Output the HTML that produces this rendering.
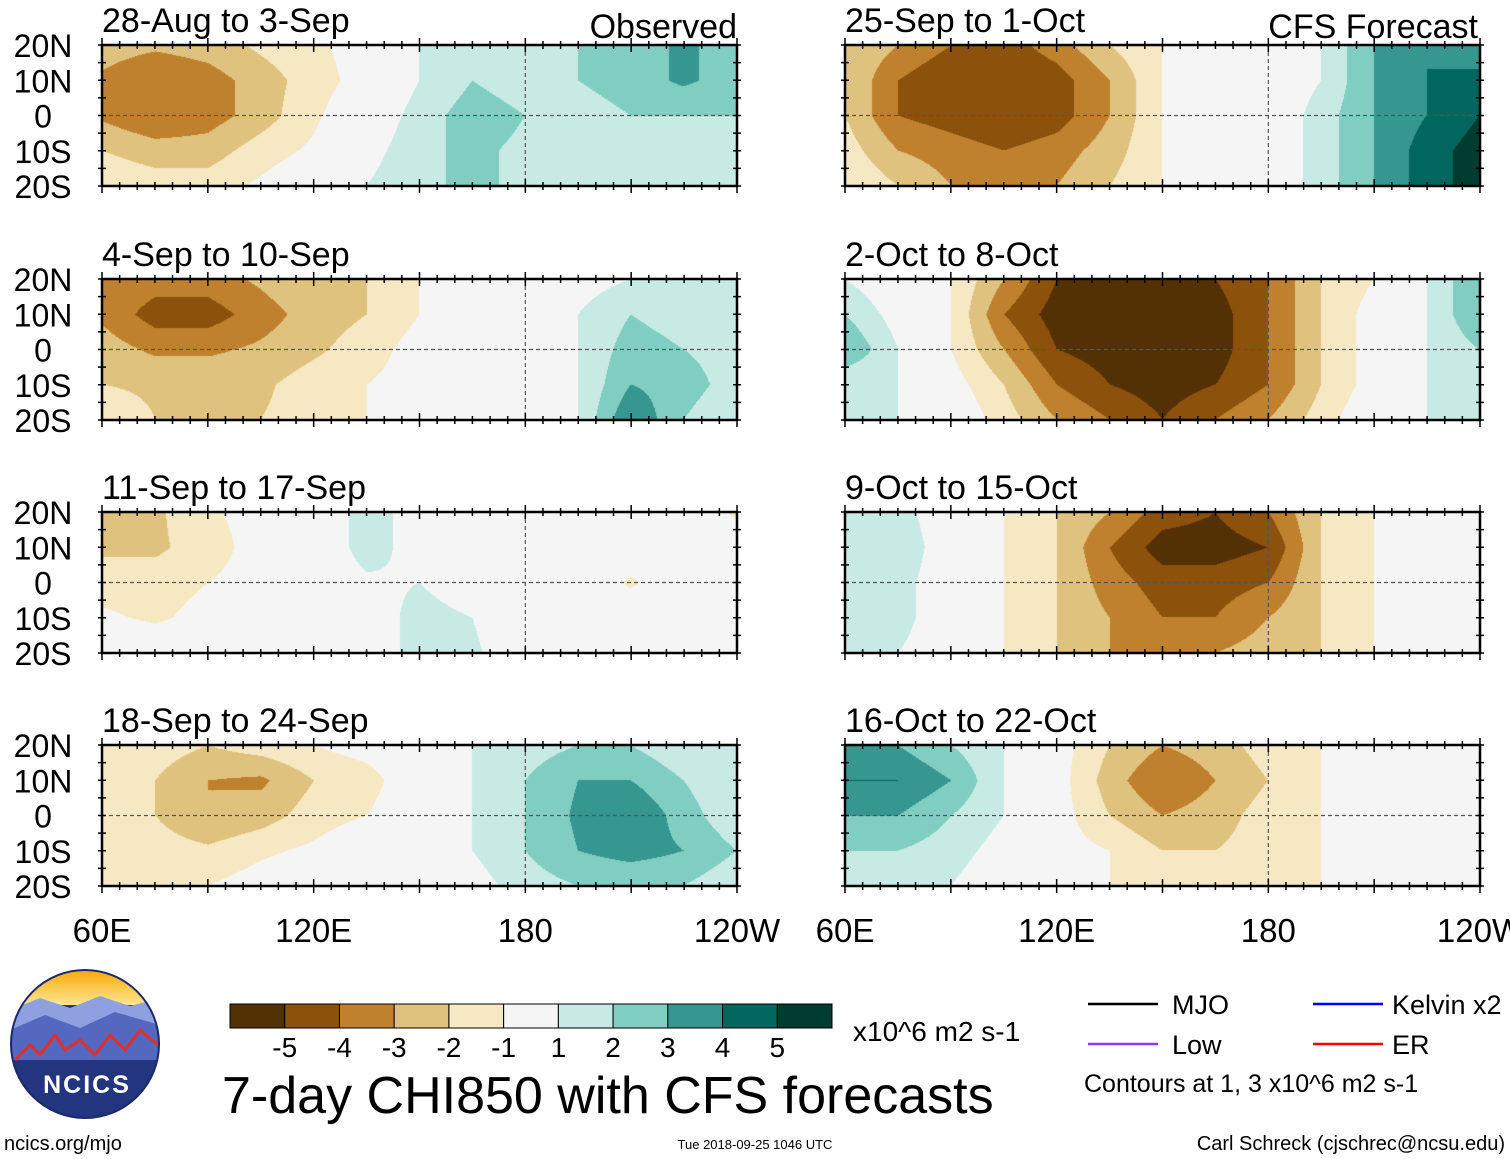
<!DOCTYPE html>
<html><head><meta charset="utf-8"><style>
body{margin:0;background:#fff;width:1510px;height:1159px;position:relative;overflow:hidden;font-family:"Liberation Sans",sans-serif}
canvas{position:absolute}
svg{position:absolute;left:0;top:0}
</style></head><body>
<div id="maps"></div>
<svg id="ov" width="1510" height="1159"></svg>
<script>
const lons=[60,75,90,105,120,135,150,165,180,195,210,225,240];
const lats=[20,10,0,-10,-20];
const levels=[-5,-4,-3,-2,-1,1,2,3,4,5];
const colors=["#543005","#8c510a","#bf812d","#dfc27d","#f6e8c3","#f5f5f5","#c7eae5","#80cdc1","#35978f","#01665e","#003c30"];
const binLabels=["-5","-4","-3","-2","-1","1","2","3","4","5"];
const titles=["28-Aug to 3-Sep","4-Sep to 10-Sep","11-Sep to 17-Sep","18-Sep to 24-Sep","25-Sep to 1-Oct","2-Oct to 8-Oct","9-Oct to 15-Oct","16-Oct to 22-Oct"];
const field0=[[-2.5,-2.8,-2.5,-1.8,-1.2,-0.5,1,2,1.5,2,2.5,3.2,2.5],[-3.2,-4,-3.5,-2.5,-1.5,-0.5,1,2,1.5,2,2.5,3.2,2.5],[-3.2,-4,-3.5,-2.5,-1.2,0,1.5,2.5,2,1.5,2,2,2],[-2,-2.5,-2.5,-1.5,-0.8,0.5,1.8,2.2,1.8,1.5,1.5,1.5,1.5],[-1.2,-1.5,-1.5,-0.8,0,1,2,2,2,1.5,1.2,1.2,1.2]];
const field1=[[-3,-3.5,-3.5,-2.8,-2,-2,-1,-0.5,0,0.5,1,1,1],[-3.2,-4.5,-4.5,-3.5,-2.5,-2,-1,0,0,1,2,1.5,1],[-2.5,-3.2,-3.2,-2.8,-2.2,-1.5,-0.5,0,0,1,2.5,2,1.5],[-2,-2.2,-2.2,-2.2,-1.5,-1,-0.5,0,0,1,3,2.5,1.5],[-1.2,-2,-2,-2,-1.5,-1,0,0,0,1,4,2,1]];
const field2=[[-2.2,-2.2,-1.2,-0.5,0,1.5,0.5,0,0,0,0,0,-1.2],[-2.2,-2.2,-1.5,-0.5,0,1.5,0.5,0,0,0,0,0,0],[-1.5,-1.5,-1,-0.5,0,0.8,1,0.5,0,0,-1.2,0,0],[-0.8,-1.2,-0.6,0,0,0.5,1.3,1,0.5,0,0,0,0],[0,0,0,0,0,0.5,1.3,1.1,0.6,0,0,0,0]];
const field3=[[-1.2,-1.5,-2,-1.5,-1,-0.5,0,1,1.5,2,2,1.2,1],[-1.2,-2,-3,-3.2,-2,-1.5,0,1,2,3,3,2,1],[-1.2,-2,-3,-2.5,-1.5,-1,0,1,2,3.2,4,2.5,1.2],[-1.2,-1.5,-1.8,-1.2,-0.8,0,0,1,2,3,3.5,3,2],[-1,-1,-1,-0.5,0,0,0,0.5,1.5,2,2,2,1.2]];
const field4=[[-2,-3,-4,-4.5,-3.5,-2,-1,0,0,1,3,4,3],[-2,-4,-5,-5,-4.5,-3,-1,0,0,1,3,4,4.5],[-2,-4,-4.5,-5,-4.5,-3,-1,0,0,1.5,3,4,5],[-1.5,-3,-3.5,-4,-3.5,-2.5,-1,0,0,1.5,3,4.5,5.5],[-1,-2,-3,-3,-3,-2,-1,0,0,1.5,3,4.5,5.5]];
const field5=[[1,0,-1,-3,-5,-5,-5,-5,-4,-2,-1,1,3],[2,0.5,-1,-4,-5.5,-5.5,-5.5,-5.5,-4,-2,-0.5,1,3],[3,1,-1,-3,-5,-5.5,-5.5,-5.5,-4,-2,-0.5,1,2],[1,1,-0.5,-2,-4,-5,-5.5,-5,-4,-2,-0.5,1,1.5],[1,1,0,-1.5,-3,-4,-5,-4,-3,-1.5,0,1,1.5]];
const field6=[[1.5,1.5,0,-1,-2,-3,-4.5,-5,-4,-2,-1,-1,-1],[1.5,2,0,-1,-2,-4,-5.5,-5.5,-5,-2,-1,-0.5,-0.5],[1,1.5,0,-1,-2,-3.5,-4.5,-4.5,-4,-2,-1,-0.5,-0.5],[1,1.5,0,-1,-2,-3,-4,-4,-3,-2,-1,-0.5,-0.5],[1,1,0,-1,-2,-3,-3,-3,-2.5,-2,-1,-0.5,-0.5]];
const field7=[[3,3,2,1,-0.5,-2,-3,-2.5,-1.5,-1,0,0,-1],[4,4,3,1,-0.5,-2.5,-4,-3,-2,-1,0,0,-1],[3,3,2,1,-0.5,-2,-3,-2.5,-1.5,-1,-0.5,-1,-1],[2,2,1.5,0.5,-0.5,-1,-2,-2,-1.5,-1,-1,-1,-1],[1,1.5,1,0,-0.5,-1,-1.5,-1.5,-1,-1,-1,-1,-1]];
const fields=[field0,field1,field2,field3,field4,field5,field6,field7];

const colX=[102,845], W=635, rowY=[45,279,512,745], H=141;
const xOf=(x0,lon)=>x0+(lon-60)/180*W;
const yOf=(y0,lat)=>y0+(20-lat)/40*H;
function colorFor(v){let i=0;while(i<levels.length&&v>=levels[i])i++;return colors[i];}
function hex(c){return [parseInt(c.substr(1,2),16),parseInt(c.substr(3,2),16),parseInt(c.substr(5,2),16)];}
const maps=document.getElementById('maps');
const NS="http://www.w3.org/2000/svg";
const ov=document.getElementById('ov');
function el(tag,attrs,parent){const e=document.createElementNS(NS,tag);for(const k in attrs)e.setAttribute(k,attrs[k]);(parent||ov).appendChild(e);return e;}
function txt(x,y,s,size,anchor,name){const t=el('text',{x:x,y:y,'font-size':size,'text-anchor':anchor||'start','font-family':'Liberation Sans, sans-serif',fill:'#000'});t.textContent=s;


return t;}

fields.forEach((f,p)=>{
  const col=p<4?0:1,row=p%4,x0=colX[col],y0=rowY[row];
  const cv=document.createElement('canvas');cv.width=W;cv.height=H;
  cv.style.left=x0+'px';cv.style.top=y0+'px';
  
  
  maps.appendChild(cv);
  const ctx=cv.getContext('2d');const img=ctx.createImageData(W,H);
  const nx=lons.length-1,ny=lats.length-1;
  for(let py=0;py<H;py++){const gy=py/(H-1)*ny;const j=Math.min(Math.floor(gy),ny-1),fy=gy-j;
    for(let px=0;px<W;px++){const gx=px/(W-1)*nx;const i=Math.min(Math.floor(gx),nx-1),fx=gx-i;
      const v=(f[j][i]*(1-fx)+f[j][i+1]*fx)*(1-fy)+(f[j+1][i]*(1-fx)+f[j+1][i+1]*fx)*fy;
      const c=hex(colorFor(v));const k=(py*W+px)*4;img.data[k]=c[0];img.data[k+1]=c[1];img.data[k+2]=c[2];img.data[k+3]=255;}}
  ctx.putImageData(img,0,0);
  el('line',{x1:x0,x2:x0+W,y1:yOf(y0,0),y2:yOf(y0,0),stroke:'#555','stroke-width':1.2,'stroke-dasharray':'4,3'});
  el('line',{x1:xOf(x0,180),x2:xOf(x0,180),y1:y0,y2:y0+H,stroke:'#555','stroke-width':1.2,'stroke-dasharray':'4,3'});
  const fr=el('rect',{x:x0,y:y0,width:W,height:H,fill:'none',stroke:'#000','stroke-width':2.5});
  
  
  for(let lon=60;lon<=240;lon+=5){const x=xOf(x0,lon),L=lon%30==0?7:4;
    el('line',{x1:x,x2:x,y1:y0-L,y2:y0+L,stroke:'#000','stroke-width':1.5});
    el('line',{x1:x,x2:x,y1:y0+H-L,y2:y0+H+L,stroke:'#000','stroke-width':1.5});}
  for(let lat=-20;lat<=20;lat+=5){const y=yOf(y0,lat);
    el('line',{x1:x0-4,x2:x0+4,y1:y,y2:y,stroke:'#000','stroke-width':1.5});
    el('line',{x1:x0+W-4,x2:x0+W+4,y1:y,y2:y,stroke:'#000','stroke-width':1.5});}
  txt(x0,y0-13,titles[p],34,'start','panel-title-'+(p+1));
  if(col==0){[["20N",20],["10N",10],["0",0],["10S",-10],["20S",-20]].forEach(a=>txt(43,yOf(y0,a[1])+12,a[0],32,'middle','lat-label'));}
});
txt(737,38,"Observed",34,'end','observed-label');
txt(1478,38,"CFS Forecast",34,'end','cfs-forecast-label');
[[0,"60E"],[60,"120E"],[120,"180"],[180,"120W"]].forEach(a=>{txt(xOf(102,60+a[0]),942,a[1],33,'middle','lon-label');txt(xOf(845,60+a[0]),942,a[1],33,'middle','lon-label');});

const cbX=230,cbW=602,cbY=1004,cbH=24,bw=cbW/colors.length;
colors.forEach((c,i)=>{const r=el('rect',{x:cbX+i*bw,y:cbY,width:bw,height:cbH,fill:c,stroke:'#000','stroke-width':1});

});
binLabels.forEach((s,i)=>txt(cbX+(i+1)*bw,1057,s,28,'middle','colorbar-label'));
txt(853,1041,"x10^6 m2 s-1",28,'start','colorbar-units');
txt(222,1113,"7-day CHI850 with CFS forecasts",52,'start','chart-title');
[[1088,1004,'#000','MJO',1172],[1088,1044,'#9933ff','Low',1172],[1313,1004,'#0000ff','Kelvin x2',1392],[1313,1044,'#ff0000','ER',1392]].forEach(a=>{
 const l=el('line',{x1:a[0],x2:a[0]+70,y1:a[1],y2:a[1],stroke:a[2],'stroke-width':2.5});
 
 
 txt(a[4],a[1]+10,a[3],27,'start','legend-entry');});
txt(1084,1092,"Contours at 1, 3 x10^6 m2 s-1",25,'start','contour-note');
txt(4,1150,"ncics.org/mjo",20,'start','site-url');
txt(755,1149,"Tue 2018-09-25 1046 UTC",13,'middle','timestamp');
txt(1505,1150,"Carl Schreck (cjschrec@ncsu.edu)",20,'end','author-credit');
const g=el('g',{});
el('defs',{},g).innerHTML='<clipPath id="lc"><circle cx="85" cy="1044" r="74"/></clipPath><linearGradient id="sky" x1="0" y1="0" x2="0" y2="1"><stop offset="0" stop-color="#f7a600"/><stop offset="1" stop-color="#fff4b0"/></linearGradient>';
const cg=el('g',{'clip-path':'url(#lc)'},g);
el('rect',{x:10,y:968,width:150,height:45,fill:'url(#sky)'},cg);
el('rect',{x:10,y:1005,width:150,height:115,fill:'#23357e'},cg);
el('path',{d:'M10 1010 L40 998 L70 1008 L100 996 L130 1006 L160 998 L160 1040 L10 1040Z',fill:'#8fa0e0'},cg);
el('path',{d:'M10 1030 L45 1015 L80 1028 L115 1012 L160 1025 L160 1060 L10 1060Z',fill:'#5468c0'},cg);
el('path',{d:'M15 1060 L30 1045 L40 1055 L55 1035 L65 1050 L80 1040 L95 1055 L110 1035 L125 1050 L140 1030 L158 1045',fill:'none',stroke:'#e0302a','stroke-width':3},cg);
el('circle',{cx:85,cy:1044,r:74,fill:'none',stroke:'#1a2a6c','stroke-width':2},g);
const nt=el('text',{x:87,y:1093,'font-size':25,'font-weight':'bold','text-anchor':'middle',fill:'#fff','font-family':'Liberation Sans, sans-serif','letter-spacing':'2'},g);nt.textContent='NCICS';
</script>
</body></html>
